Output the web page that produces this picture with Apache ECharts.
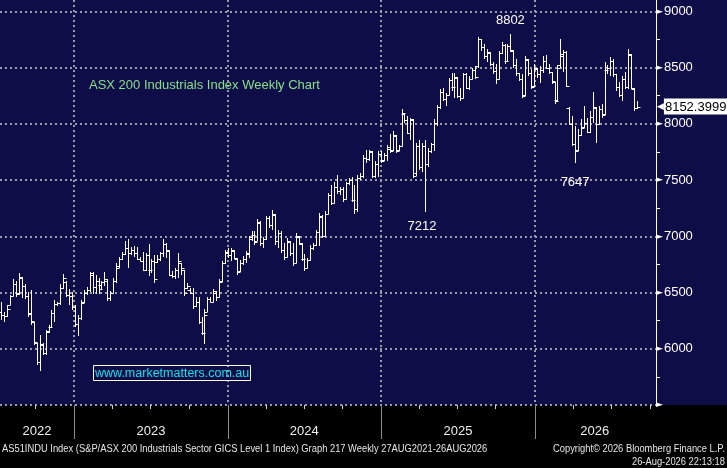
<!DOCTYPE html>
<html>
<head>
<meta charset="utf-8">
<script src="https://cdn.jsdelivr.net/npm/echarts@6.0.0/dist/echarts.min.js"></script>
<style>
html, body { margin: 0; padding: 0; background: #000; }
#chart { width: 727px; height: 468px; }
</style>
</head>
<body>
<div id="chart"></div>
<script>
"use strict";

/* weekly OHLC */
var opens = [6330,6300,6290,6390,6470,6580,6500,6630,6560,6470,6320,6240,6050,5880,6040,5960,6160,6190,6320,6400,
	6410,6540,6590,6480,6470,6370,6220,6270,6420,6500,6520,6660,6550,6600,6570,6590,6600,6450,6500,6600,
	6740,6800,6840,6900,6850,6880,6850,6800,6780,6700,6830,6700,6780,6770,6800,6850,6930,6870,6660,6650,
	6700,6760,6700,6540,6520,6500,6380,6420,6240,6140,6330,6440,6420,6500,6460,6600,6760,6850,6830,6870,
	6800,6690,6760,6800,6840,6980,7010,6960,7120,6940,6980,7160,7100,7190,6960,7030,6880,6820,6950,6850,
	6760,6990,6930,6800,6720,6790,6900,6920,7040,7170,7000,7200,7370,7300,7440,7400,7420,7330,7470,7500,
	7320,7240,7520,7540,7700,7690,7750,7540,7640,7730,7680,7720,7780,7770,7890,7770,7800,8090,8030,7920,
	8030,7560,7800,7620,7800,7640,7760,7820,8010,8150,8280,8220,8260,8390,8330,8410,8250,8230,8440,8320,
	8400,8480,8510,8750,8680,8600,8630,8530,8470,8400,8630,8700,8560,8690,8650,8520,8450,8400,8260,8570,
	8450,8340,8490,8440,8480,8560,8500,8460,8370,8210,8520,8620,8640,8140,8000,7820,7770,7900,7970,8010,
	7930,8060,8140,8000,8130,8090,8480,8500,8560,8440,8330,8260,8400,8330,8610,8310,8140];
var highs = [6415,6330,6386,6474,6620,6600,6672,6640,6576,6503,6518,6240,6050,6123,6050,6167,6210,6342,6430,6420,
	6576,6664,6600,6532,6503,6386,6298,6430,6518,6547,6678,6678,6660,6630,6600,6678,6620,6514,6630,6762,
	6820,6863,6956,6980,6907,6913,6907,6815,6863,6850,6927,6800,6834,6834,6863,6980,6940,6878,6689,6718,
	6849,6762,6703,6587,6538,6538,6456,6456,6282,6355,6456,6456,6530,6514,6616,6777,6881,6896,6896,6880,
	6807,6792,6821,6872,7000,7045,7045,7149,7134,6990,7179,7179,7230,7200,7060,7045,6940,6985,6955,6940,
	7030,7000,6940,6840,6807,6926,6940,7060,7208,7190,7223,7387,7455,7485,7545,7440,7440,7485,7515,7530,
	7455,7545,7560,7725,7770,7770,7760,7665,7755,7755,7740,7815,7905,7935,7900,7815,8130,8100,8070,8055,
	8040,7830,7860,7830,7860,7785,7830,8040,8170,8305,8320,8275,8410,8455,8455,8420,8320,8455,8455,8425,
	8500,8515,8770,8755,8710,8665,8640,8545,8530,8650,8725,8710,8710,8802,8660,8575,8455,8440,8605,8580,
	8485,8530,8500,8515,8605,8608,8533,8460,8370,8518,8750,8653,8645,8150,8069,7979,7949,8039,8159,8054,
	8114,8278,8150,8159,8174,8548,8518,8593,8578,8443,8368,8428,8458,8668,8620,8320,8204];
var lows = [6255,6240,6278,6386,6470,6460,6480,6450,6444,6284,6210,6035,5860,5801,5947,5947,6140,6181,6240,6380,
	6386,6532,6459,6386,6342,6196,6115,6254,6410,6474,6503,6490,6490,6490,6530,6560,6427,6427,6500,6587,
	6720,6790,6834,6718,6834,6820,6790,6776,6689,6690,6645,6675,6587,6762,6776,6820,6805,6645,6630,6616,
	6630,6660,6471,6529,6485,6355,6369,6224,6122,6045,6326,6413,6413,6427,6456,6590,6750,6807,6777,6800,
	6658,6680,6747,6762,6807,6955,6926,6955,6911,6896,6970,7074,7060,6926,6896,6851,6792,6815,6821,6732,
	6760,6926,6777,6690,6715,6790,6881,6915,6911,6985,6990,7194,7275,7300,7380,7365,7305,7330,7455,7305,
	7200,7215,7500,7515,7650,7665,7515,7515,7530,7650,7670,7665,7740,7760,7740,7760,7800,8010,7905,7860,
	7515,7540,7590,7575,7212,7620,7740,7755,7980,8130,8200,8160,8260,8290,8230,8230,8200,8230,8305,8300,
	8395,8395,8500,8650,8575,8545,8515,8440,8350,8400,8620,8530,8560,8635,8500,8425,8380,8230,8250,8425,
	8305,8330,8410,8365,8455,8488,8443,8353,8174,8200,8500,8458,8323,7994,7799,7647,7760,7889,7960,7919,
	7920,8009,7829,7990,8054,8080,8443,8428,8413,8293,8234,8204,8308,8308,8308,8114,8130];
var closes = [6300,6290,6350,6470,6580,6490,6640,6560,6470,6310,6250,6060,5880,6030,5960,6150,6190,6320,6400,6410,
	6540,6630,6480,6470,6370,6220,6270,6410,6500,6520,6670,6550,6600,6530,6590,6620,6450,6500,6600,6720,
	6800,6840,6900,6850,6880,6850,6800,6780,6700,6830,6700,6780,6620,6800,6850,6930,6880,6660,6650,6700,
	6780,6720,6500,6560,6500,6380,6420,6240,6140,6300,6440,6420,6510,6460,6590,6760,6860,6830,6880,6810,
	6680,6760,6800,6850,6990,7010,6950,7130,6940,6980,7160,7100,7200,6960,7030,6880,6820,6960,6850,6760,
	7000,6940,6800,6720,6790,6900,6920,7040,7180,7000,7200,7370,7300,7440,7400,7420,7330,7470,7500,7320,
	7240,7520,7540,7700,7690,7760,7540,7640,7730,7670,7720,7790,7760,7900,7760,7800,8100,8030,7920,8040,
	7540,7800,7620,7800,7640,7760,7820,8010,8150,8280,8220,8260,8390,8330,8420,8250,8230,8440,8320,8400,
	8480,8420,8750,8680,8600,8640,8530,8470,8400,8630,8700,8560,8690,8660,8520,8450,8400,8250,8580,8450,
	8330,8500,8440,8480,8560,8500,8460,8380,8200,8500,8600,8640,8340,8000,7820,7760,7900,7960,8010,7930,
	8060,8150,8000,8130,8080,8480,8500,8560,8440,8330,8260,8400,8330,8620,8320,8140,8152.3999];

/* x axis is in weeks from the left edge of the plot */
var weekMax = 223;
var yearEdges = [25.15, 77.5, 129.5, 181.85];
var quarterTicks = [12.1, 38.2, 51.2, 64.3, 90.5, 103.5, 116.5, 142.5, 155.5, 168.5, 194.9, 207.9, 220.9];
var yearNames = ['2022', '2023', '2024', '2025', '2026'];
var yearLabelPos = [12.6, 51.3, 103.4, 155.7, 202.2];

/* price axis */
var yMin = 5500, yMax = 9100;
var priceTicks = [5500, 6000, 6500, 7000, 7500, 8000, 8500, 9000];
var priceMinorTicks = [5750, 6250, 6750, 7250, 7750, 8250, 8750];

/* annotated extremes: week index, which side */
var noteWeeks = [173, 144, 195];
var noteSides = ['high', 'low', 'low'];

var bars = [];
for (var i = 0; i < closes.length; i++) {
	bars.push([i + 0.5, opens[i], closes[i], lows[i], highs[i]]);
}

var notes = noteWeeks.map(function (w, k) {
	var v = noteSides[k] === 'high' ? highs[w] : lows[w];
	return {
		coord: [w + 0.5, v],
		value: v,
		label: { offset: noteSides[k] === 'high' ? [0, -13] : (k === 1 ? [-3, 14] : [0, 19]) }
	};
});

function renderBar(params, api) {
	var x = api.value(0);
	var o = api.coord([x, api.value(1)]);
	var c = api.coord([x, api.value(2)]);
	var l = api.coord([x, api.value(3)]);
	var h = api.coord([x, api.value(4)]);
	var px = Math.round(o[0]) + 0.5;
	var oy = Math.round(o[1]) + 0.5;
	var cy = Math.round(c[1]) + 0.5;
	var st = { stroke: '#ffffff', lineWidth: 1 };
	return {
		type: 'group',
		children: [
			{ type: 'line', shape: { x1: px, y1: Math.round(h[1]), x2: px, y2: Math.round(l[1]) }, style: st },
			{ type: 'line', shape: { x1: px - 3, y1: oy, x2: px, y2: oy }, style: st },
			{ type: 'line', shape: { x1: px, y1: cy, x2: px + 3, y2: cy }, style: st }
		]
	};
}

var dotted = { color: '#9a9aa8', type: [2, 3], width: 2 };
var smallFont = '10px "Liberation Sans"';

var chart = echarts.init(document.getElementById('chart'));
var option = {
	animation: false,
	backgroundColor: '#0f0d48',
	textStyle: { fontFamily: 'Liberation Sans' },
	graphic: [
		{ type: 'rect', z: -10, silent: true, shape: { x: 0, y: 405, width: 727, height: 63 }, style: { fill: '#000000' } },
		{ type: 'text', silent: true, x: 2, y: 449, scaleX: 0.935, style: {
			text: 'AS51INDU Index (S&P/ASX 200 Industrials Sector GICS Level 1 Index) Graph 217 Weekly 27AUG2021-26AUG2026',
			fill: '#e6e6e6', font: smallFont, verticalAlign: 'middle' } },
		{ type: 'text', silent: true, x: 725, y: 449, scaleX: 0.935, style: {
			text: 'Copyright\u00a9 2026 Bloomberg Finance L.P.',
			fill: '#e6e6e6', font: smallFont, align: 'right', verticalAlign: 'middle' } },
		{ type: 'text', silent: true, x: 725, y: 462, scaleX: 0.935, style: {
			text: '26-Aug-2026 22:13:18',
			fill: '#e6e6e6', font: smallFont, align: 'right', verticalAlign: 'middle' } }
	],
	title: [{
		text: 'ASX 200 Industrials Index Weekly Chart',
		left: 89, top: 79, padding: 0,
		textStyle: { color: '#86e08a', fontSize: 13, fontWeight: 'normal' }
	}, {
		text: 'www.marketmatters.com.au',
		left: 93, top: 365, padding: [2, 2, 1, 2],
		borderColor: '#ffffff', borderWidth: 1,
		textStyle: { color: '#14e0ec', fontSize: 12.5, fontWeight: 'normal' }
	}],
	grid: { left: 0, right: 71, top: 0, bottom: 63 },
	xAxis: [{
		type: 'value', min: 0, max: weekMax, position: 'bottom',
		axisLine: { show: false, onZero: false },
		axisTick: { show: true, customValues: quarterTicks, length: 4, lineStyle: { color: '#d0d0d0' } },
		axisLabel: {
			customValues: yearLabelPos, margin: 20, color: '#eeeeee', fontSize: 13,
			formatter: function (v) {
				var best = 0;
				yearLabelPos.forEach(function (p, k) { if (Math.abs(p - v) < Math.abs(yearLabelPos[best] - v)) best = k; });
				return yearNames[best];
			}
		},
		splitLine: { show: false }
	}, {
		type: 'value', min: 0, max: weekMax, position: 'bottom',
		axisLine: { show: false, onZero: false },
		axisTick: { show: true, customValues: yearEdges, length: 34, lineStyle: { color: '#8c8c8c' } },
		axisLabel: { show: false },
		splitLine: { show: true, lineStyle: dotted }
	}],
	yAxis: [{
		type: 'value', position: 'right', min: yMin, max: yMax,
		axisLine: { show: true, onZero: false, lineStyle: { color: '#ffffff', width: 1 } },
		axisTick: { show: false, customValues: priceTicks },
		splitLine: { show: true, lineStyle: dotted },
		axisLabel: {
			customValues: priceTicks, margin: 0, showMinLabel: true,
			formatter: function (v) { return v === yMin ? '{t|\u25ba}' : '{t|\u25ba}{v|' + v + '}'; },
			rich: {
				t: { color: '#ffffff', fontSize: 9, fontFamily: 'DejaVu Sans' },
				v: { color: '#ffffff', fontSize: 13, padding: [0, 0, 0, 1] }
			}
		}
	}, {
		type: 'value', position: 'right', min: yMin, max: yMax, offset: 0,
		axisLine: { show: false, onZero: false },
		axisTick: { show: true, customValues: priceMinorTicks, length: 4, lineStyle: { color: '#ffffff' } },
		axisLabel: { show: false },
		splitLine: { show: false }
	}],
	series: [{
		type: 'custom',
		renderItem: renderBar,
		data: bars,
		encode: { x: 0, y: [1, 2, 3, 4] },
		markPoint: {
			symbol: 'circle', symbolSize: 0, silent: true,
			label: { show: true, color: '#ffffff', fontSize: 13, formatter: '{c}' },
			data: notes
		},
		markLine: {
			silent: true, symbol: ['none', 'none'],
			lineStyle: { color: 'rgba(0,0,0,0)' },
			label: {
				position: 'end', distance: 1,
				formatter: function () { return '{a|\u25c0}{b|' + closes[closes.length - 1] + '}'; },
				rich: {
					a: { color: '#ffffff', fontSize: 9, fontFamily: 'DejaVu Sans' },
					b: { color: '#000000', backgroundColor: '#ffffff', fontSize: 13, padding: [2, 3, 1, 1] }
				}
			},
			data: [{ yAxis: closes[closes.length - 1] }]
		}
	}]
};
chart.setOption(option);
</script>
</body>
</html>
